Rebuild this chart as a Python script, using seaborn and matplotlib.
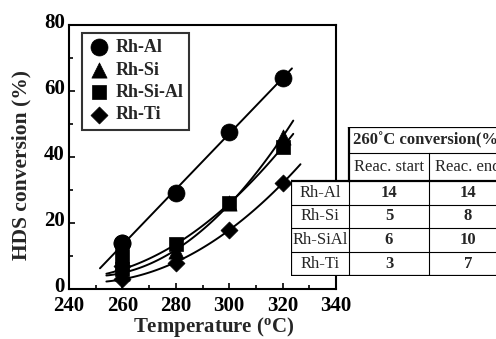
import numpy as np
import pandas as pd
import matplotlib
matplotlib.use("Agg")
import matplotlib.pyplot as plt
import matplotlib.transforms as mtransforms
import seaborn as sns
from matplotlib.patches import Rectangle

# ---- data ----
temps = [260, 280, 300, 320]
rh_al = [14, 29, 47.5, 64]
rh_si = [5, 11.5, 26, 46]
rh_sial = [6, 13.5, 26, 43]
rh_ti = [3, 8, 18, 32]
series_names = ["Rh-Al", "Rh-Si", "Rh-Si-Al", "Rh-Ti"]
table_rows = ["Rh-Al", "Rh-Si", "Rh-SiAl", "Rh-Ti"]
start_260 = [14, 5, 6, 3]
end_260 = [14, 8, 10, 7]
xticks = [240, 260, 280, 300, 320, 340]
yticks = [0, 20, 40, 60, 80]

sns.set_theme(style="ticks")
plt.rcParams["font.family"] = ["Liberation Serif", "DejaVu Serif"]
plt.rcParams["mathtext.fontset"] = "custom"
plt.rcParams["mathtext.rm"] = "Liberation Serif"
plt.rcParams["mathtext.bf"] = "Liberation Serif:bold"

fig = plt.figure(figsize=(4.96, 3.39), dpi=100)
W, H = 496, 339
ax = fig.add_axes([69 / W, 1 - 289 / H, (336 - 69) / W, (289 - 25) / H])

values = [rh_al, rh_si, rh_sial, rh_ti]
markers = ["o", "^", "s", "D"]
sizes = [150, 120, 110, 75]

rows = []
for name, vals in zip(series_names, values):
    for t, v in zip(temps, vals):
        rows.append({"T": t, "conv": v, "cat": name, "kind": "main"})
for name, en in zip(series_names, end_260):
    rows.append({"T": 260, "conv": en, "cat": name, "kind": "end"})
df = pd.DataFrame(rows)

# fitted curves (through main series)
fit_ranges = [(251.6, 323.5), (254, 324), (254, 324), (254, 326.7)]
degs = [1, 2, 2, 2]
curves = []
for name, (a, b), d in zip(series_names, fit_ranges, degs):
    sub = df[(df["cat"] == name) & (df["kind"] == "main")]
    coef = np.polyfit(sub["T"], sub["conv"], d)
    xs = np.linspace(a, b, 100)
    curves.append(pd.DataFrame({"T": xs, "conv": np.polyval(coef, xs), "cat": name}))
cdf = pd.concat(curves)
sns.lineplot(data=cdf, x="T", y="conv", units="cat", estimator=None, color="black",
             lw=1.4, ax=ax, legend=False, sort=False)

for name, m, s in zip(series_names, markers, sizes):
    sub = df[df["cat"] == name]
    sns.scatterplot(data=sub, x="T", y="conv", marker=m, s=s, color="black",
                    edgecolor="black", linewidth=0.5, ax=ax, label=name, zorder=3)

ax.set_xlim(240, 340)
ax.set_ylim(0, 80)
ax.set_xticks(xticks)
ax.set_yticks(yticks)
ax.set_xticks(np.arange(250, 340, 20), minor=True)
ax.set_yticks(np.arange(10, 80, 20), minor=True)
ax.tick_params(which="both", direction="in", top=False, right=False, width=1.2,
               colors="black", labelsize=15)
ax.tick_params(axis="x", which="major", pad=5)
ax.tick_params(axis="y", which="major", pad=3)
ax.tick_params(which="major", length=4)
ax.tick_params(which="minor", length=3)
shift_up = mtransforms.ScaledTranslation(0, 4 / 100, fig.dpi_scale_trans)
for lab in ax.get_yticklabels():
    lab.set_fontweight("bold")
    lab.set_transform(lab.get_transform() + shift_up)
for lab in ax.get_xticklabels():
    lab.set_fontweight("bold")
for sp in ax.spines.values():
    sp.set_linewidth(1.5)
    sp.set_color("black")
ax.set_xlabel(r"Temperature ($\mathbf{^o}$C)", fontsize=15, fontweight="bold")
ax.set_ylabel("HDS conversion (%)", fontsize=15.5, fontweight="bold")
ax.xaxis.set_label_coords(0.543, -0.097)
ax.yaxis.set_label_coords(-0.14, 0.47)

leg = ax.legend(loc="upper left", bbox_to_anchor=(0.048, 0.97), frameon=True, fancybox=False,
                prop={"weight": "bold", "size": 13}, handletextpad=0.3, borderpad=0.35,
                labelspacing=0.3, handlelength=1.2, borderaxespad=0)
leg.get_frame().set_edgecolor("black")
leg.get_frame().set_linewidth(1.5)

# ---- table ----
tx0, tx1 = 291, 511
ty0, ty1 = 127, 276
tax = fig.add_axes([tx0 / W, 1 - ty1 / H, (tx1 - tx0) / W, (ty1 - ty0) / H])
tax.set_xlim(0, tx1 - tx0)
tax.set_ylim(ty1 - ty0, 0)
tax.axis("off")
cx = [0, 58, 138, 216]
ry = [0, 26, 54, 78, 101, 125, 149]
tax.add_patch(Rectangle((cx[1], ry[0]), cx[3] - cx[1], ry[2] - ry[0], facecolor="white",
                        edgecolor="none", zorder=0))
tax.add_patch(Rectangle((cx[0], ry[2]), cx[3] - cx[0], ry[6] - ry[2], facecolor="white",
                        edgecolor="none", zorder=0))
thick, thin = 1.6, 0.8
kw = dict(color="black", solid_capstyle="projecting")
tax.plot([cx[1], cx[3]], [ry[0], ry[0]], lw=thick, **kw)
tax.plot([cx[1], cx[1]], [ry[0], ry[2]], lw=thick, **kw)
tax.plot([cx[0], cx[3]], [ry[2], ry[2]], lw=thick, **kw)
tax.plot([cx[0], cx[0]], [ry[2], ry[6]], lw=thick, **kw)
tax.plot([cx[0], cx[3]], [ry[6], ry[6]], lw=thick, **kw)
tax.plot([cx[3], cx[3]], [ry[0], ry[6]], lw=thick, **kw)
tax.plot([cx[1], cx[3]], [ry[1], ry[1]], lw=thin, **kw)
for y in ry[3:6]:
    tax.plot([cx[0], cx[3]], [y, y], lw=thin, **kw)
tax.plot([cx[1], cx[1]], [ry[2], ry[6]], lw=thin, **kw)
tax.plot([cx[2], cx[2]], [ry[1], ry[6]], lw=thin, **kw)

tfs = 12
tax.text((cx[1] + cx[3]) / 2, (ry[0] + ry[1]) / 2, "260˚C conversion(%)", ha="center",
         va="center", fontsize=tfs, fontweight="bold")
tax.text((cx[1] + cx[2]) / 2, (ry[1] + ry[2]) / 2, "Reac. start", ha="center", va="center",
         fontsize=tfs)
tax.text((cx[2] + cx[3]) / 2, (ry[1] + ry[2]) / 2, "Reac. end", ha="center", va="center",
         fontsize=tfs)
for i, (lab, st, en) in enumerate(zip(table_rows, start_260, end_260)):
    yc = (ry[2 + i] + ry[3 + i]) / 2
    tax.text((cx[0] + cx[1]) / 2, yc, lab, ha="center", va="center", fontsize=tfs)
    tax.text((cx[1] + cx[2]) / 2, yc, str(st), ha="center", va="center", fontsize=tfs,
             fontweight="bold")
    tax.text((cx[2] + cx[3]) / 2, yc, str(en), ha="center", va="center", fontsize=tfs,
             fontweight="bold")

fig.savefig("out.png", dpi=100)
